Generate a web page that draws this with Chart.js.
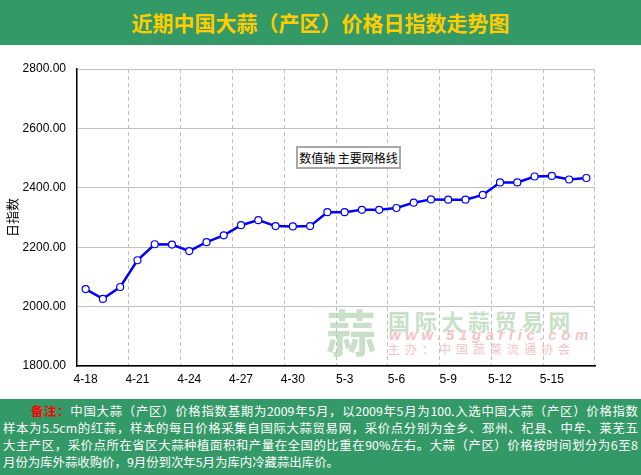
<!DOCTYPE html>
<html>
<head>
<meta charset="utf-8">
<script src="https://cdn.jsdelivr.net/npm/chart.js@4"></script>
<style>
    body { margin: 0; background: #fff; }
    #page { position: relative; width: 641px; height: 475px; overflow: hidden; background: #fff; }
    #page > div, #page > canvas { position: absolute; }
    .title {
        left: 0; top: 0; width: 641px; height: 45px; background: #339966;
        color: #ffcc00; font: bold 21px "Noto Sans CJK SC", sans-serif;
        text-align: center; line-height: 44px;
    }
    .note {
        left: 0; top: 399px; width: 641px; height: 76px; background: #339966;
        color: #fff; font: 12.4px "Noto Sans CJK SC", sans-serif;
    }
    .note div { position: absolute; left: 3px; width: 635px; height: 17px; line-height: 17px;
        white-space: nowrap; text-align: justify; text-align-last: justify; }
    .note b { color: #ff0000; }
    .mark { left: 0; top: 0; }
    .mark span { position: absolute; white-space: nowrap; }
    .box {
        left: 296px; top: 146px; width: 101px; height: 19px; border: 2px solid #a8a8a8;
        background: #fff; font: 12px "Noto Sans CJK SC", sans-serif; line-height: 19px;
        text-align: center; color: #000;
    }
</style>
</head>
<body>
<div id="page">
    <div class="mark">
        <span style="left:326px; top:305px; font:bold 50px 'Noto Sans CJK SC'; color:#c8dfc8; line-height:50px;">蒜</span>
        <span style="left:388px; top:309px; font:bold 22px 'Noto Sans CJK SC'; color:#c8dfc8; letter-spacing:4.7px; line-height:22px;">国际大蒜贸易网</span>
        <span style="left:389px; top:327px; font:italic bold 15px 'Liberation Sans'; color:#f4c4c4; letter-spacing:4.6px; line-height:16px;">www.51garlic.com</span>
        <span style="left:388px; top:342px; font:12px 'Noto Sans CJK SC'; color:#f4c4c4; letter-spacing:5px; line-height:14px;">主办：中国蔬菜流通协会</span>
    </div>
    <canvas id="chart" width="641" height="475" style="left:0; top:0;"></canvas>
    <div class="box">数值轴 主要网格线</div>
    <div class="title">近期中国大蒜（产区）价格日指数走势图</div>
    <div class="note">
        <div style="top:4px; left:31px; width:607px;"><b>备注：</b>中国大蒜（产区）价格指数基期为2009年5月，以2009年5月为100.入选中国大蒜（产区）价格指数</div>
        <div style="top:21px;">样本为5.5cm的红蒜，样本的每日价格采集自国际大蒜贸易网，采价点分别为金乡、邳州、杞县、中牟、莱芜五</div>
        <div style="top:38px;">大主产区，采价点所在省区大蒜种植面积和产量在全国的比重在90%左右。大蒜（产区）价格按时间划分为6至8</div>
        <div style="top:55px; text-align-last:left;">月份为库外蒜收购价，9月份到次年5月为库内冷藏蒜出库价。</div>
    </div>
</div>
<script>
const dates = ['4-18', '4-19', '4-20', '4-21', '4-22', '4-23', '4-24', '4-25', '4-26', '4-27',
    '4-28', '4-29', '4-30', '5-1', '5-2', '5-3', '5-4', '5-5', '5-6', '5-7',
    '5-8', '5-9', '5-10', '5-11', '5-12', '5-13', '5-14', '5-15', '5-16', '5-17'];
const indexValues = [2059, 2026, 2066, 2156, 2210, 2209, 2187, 2217, 2240, 2274,
    2291, 2271, 2270, 2271, 2318, 2318, 2326, 2326, 2332, 2350,
    2361, 2360, 2360, 2376, 2418, 2418, 2438, 2440, 2428, 2433];
const yTicks = [1800, 2000, 2200, 2400, 2600, 2800];
const yLabel = '日指数';

const ctx = document.getElementById('chart').getContext('2d');
new Chart(ctx, {
    type: 'line',
    data: {
        labels: dates,
        datasets: [{
            data: indexValues,
            borderColor: '#0000ff',
            borderWidth: 2.5,
            tension: 0,
            pointRadius: 3.5,
            pointBackgroundColor: '#ffffff',
            pointBorderColor: '#0000ff',
            pointBorderWidth: 1.2
        }]
    },
    options: {
        responsive: false,
        animation: false,
        devicePixelRatio: 1,
        layout: { padding: { top: 69, right: 46, left: 0, bottom: 0 } },
        plugins: { legend: { display: false }, tooltip: { enabled: false } },
        scales: {
            x: {
                offset: true,
                afterFit: function (scale) { scale.height = 109; },
                grid: {
                    offset: true,
                    drawTicks: false,
                    lineWidth: 1,
                    color: function (c) {
                        // dashed line every 3 days (and at right edge)
                        return (c.index === undefined || c.index % 3 === 0) ? '#c0c0c0' : 'rgba(0,0,0,0)';
                    }
                },
                border: { color: '#000', width: 1.5, dash: [4, 3] },
                ticks: {
                    autoSkip: false,
                    maxRotation: 0,
                    padding: 6,
                    color: '#000',
                    font: { family: "'Liberation Sans', Arial", size: 12 },
                    callback: function (v, i) { return i % 3 === 0 ? dates[i] : ''; }
                }
            },
            y: {
                min: yTicks[0],
                max: yTicks[yTicks.length - 1],
                afterFit: function (scale) { scale.width = 77; },
                afterBuildTicks: function (scale) { scale.ticks = yTicks.map(v => ({ value: v })); },
                grid: { color: '#c0c0c0', drawTicks: false, lineWidth: 1 },
                border: { color: '#000', width: 1.5 },
                title: {
                    display: true,
                    text: yLabel,
                    color: '#000',
                    padding: { top: 4, bottom: 0 },
                    font: { family: "'Noto Sans CJK SC'", size: 13 }
                },
                ticks: {
                    padding: 11,
                    color: '#000',
                    font: { family: "'Liberation Sans', Arial", size: 12 },
                    callback: function (v) { return v.toFixed(2); }
                }
            }
        }
    }
});
</script>
</body>
</html>
